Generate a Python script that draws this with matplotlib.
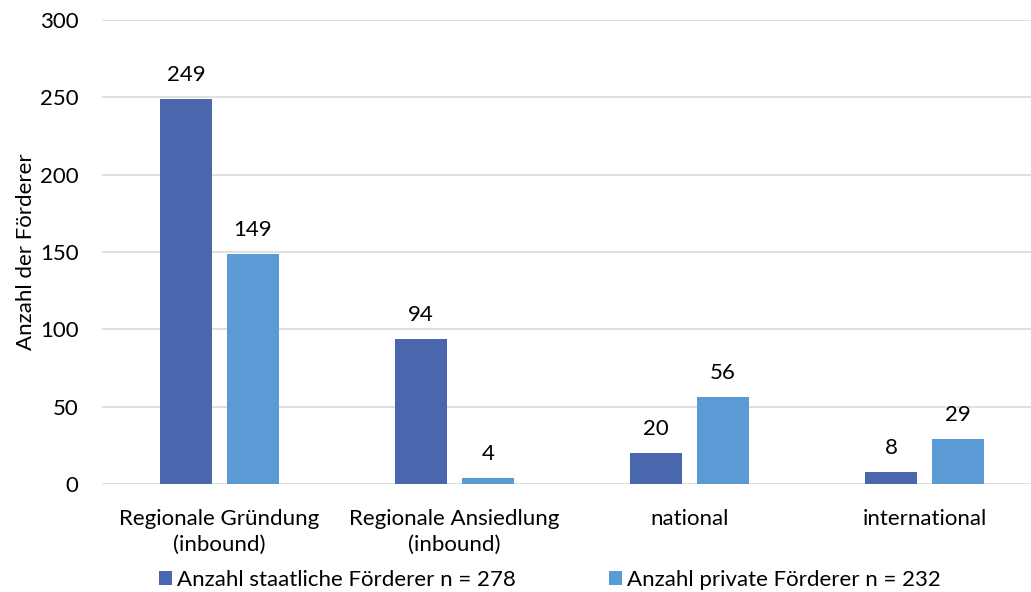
import numpy as np
import matplotlib.pyplot as plt

plt.rcParams['font.family'] = ['Lato', 'DejaVu Sans']

categories = ['Regionale Gründung\n(inbound)', 'Regionale Ansiedlung\n(inbound)', 'national', 'international']
staatlich = [249, 94, 20, 8]
privat = [149, 4, 56, 29]
labels = ['Anzahl staatliche Förderer n = 278', 'Anzahl private Förderer n = 232']
colors = ['#4A66AC', '#5B9BD5']

fig = plt.figure(figsize=(10.31, 5.92), dpi=100)
ax = fig.add_axes([102 / 1031, 1 - 484 / 592, 929 / 1031, 464 / 592])

fs = 16
x = np.arange(len(categories))
w = 0.221
off = 0.1426
b1 = ax.bar(x - off, staatlich, w, color=colors[0], label=labels[0], zorder=3)
b2 = ax.bar(x + off, privat, w, color=colors[1], label=labels[1], zorder=3)
for bars in (b1, b2):
    for r in bars:
        ax.text(r.get_x() + r.get_width() / 2, r.get_height() + 9, str(int(r.get_height())),
                ha='center', va='bottom', fontsize=fs, color='#000000')

ax.set_xlim(-0.5, -0.5 + 929 / 235)
ax.set_ylim(0, 300)
ax.set_yticks(range(0, 301, 50))
ax.set_xticks(x)
ax.set_xticklabels(categories, fontsize=fs, linespacing=1.35)
ax.tick_params(axis='y', labelsize=fs, length=0, pad=17)
ax.tick_params(axis='x', length=0, pad=18)
ax.yaxis.grid(True, color='#D9D9D9', linewidth=1.2, zorder=0)
for s in ax.spines.values():
    s.set_visible(False)
ax.set_ylabel('Anzahl der Förderer', fontsize=fs, labelpad=4)
ax.yaxis.set_label_coords(-0.071, 0.5)

fig.legend(loc='lower center', bbox_to_anchor=(0.533, -0.03), ncol=2, frameon=False,
           fontsize=fs, handlelength=0.6, handleheight=0.6, handletextpad=0.2,
           columnspacing=4.2)

fig.savefig('out.png', dpi=100)
